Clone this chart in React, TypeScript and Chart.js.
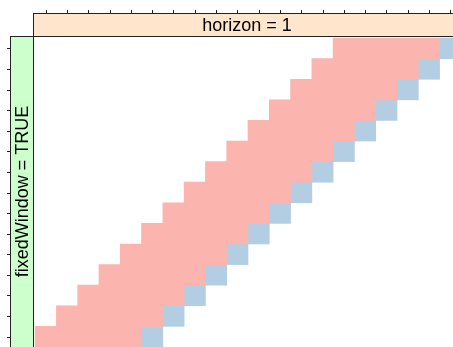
import React, { useEffect, useRef } from "react";
import { Chart, registerables } from "chart.js";

Chart.register(...registerables);

// Time-slice resampling (fixedWindow = TRUE, horizon = 1)
const sliceIds = [1, 2, 3, 4, 5, 6, 7, 8, 9, 10, 11, 12, 13, 14, 15];
const timePoints = [1, 2, 3, 4, 5, 6, 7, 8, 9, 10, 11, 12, 13, 14, 15, 16, 17, 18, 19, 20];
const trainStart = [1, 2, 3, 4, 5, 6, 7, 8, 9, 10, 11, 12, 13, 14, 15];
const trainEnd = [5, 6, 7, 8, 9, 10, 11, 12, 13, 14, 15, 16, 17, 18, 19];
const testTime = [6, 7, 8, 9, 10, 11, 12, 13, 14, 15, 16, 17, 18, 19, 20];

const topStripLabel = "horizon = 1";
const leftStripLabel = "fixedWindow = TRUE";

const TRAIN_COLOR = "#FBB4AE";
const TEST_COLOR = "#B3CDE3";
const TOP_STRIP_BG = "#FFE5CC";
const LEFT_STRIP_BG = "#CCFFCC";

const CANVAS_W = 480;
const CANVAS_H = 360;
const STRIP = 23;

export default function App() {
  const ref = useRef<HTMLCanvasElement>(null);

  useEffect(() => {
    if (!ref.current) return;

    const latticePlugin = {
      id: "latticeStrips",
      afterDraw(chart: any) {
        const { ctx, chartArea: a, scales } = chart;
        const xs = scales.x;
        const ys = scales.y;
        ctx.save();
        ctx.lineWidth = 1;
        ctx.strokeStyle = "#222";

        const L = Math.round(a.left) + 0.5;
        const T = Math.round(a.top) + 0.5;

        // top strip
        ctx.fillStyle = TOP_STRIP_BG;
        ctx.fillRect(L, T - STRIP, chart.width, STRIP);
        ctx.strokeRect(L, T - STRIP, chart.width + 10, STRIP);

        // left strip
        ctx.fillStyle = LEFT_STRIP_BG;
        ctx.fillRect(L - STRIP, T, STRIP, chart.height);
        ctx.strokeRect(L - STRIP, T, STRIP, chart.height + 10);

        // panel border
        ctx.strokeRect(L, T, Math.round(a.right) - Math.round(a.left), Math.round(a.bottom) - Math.round(a.top));

        // ticks
        ctx.beginPath();
        timePoints.forEach((v) => {
          const px = Math.round(xs.getPixelForValue(v)) + 0.5;
          ctx.moveTo(px, T - STRIP - 3.5);
          ctx.lineTo(px, T - STRIP);
        });
        sliceIds.forEach((v) => {
          const py = Math.round(ys.getPixelForValue(v)) + 0.5;
          ctx.moveTo(L - STRIP - 3.5, py);
          ctx.lineTo(L - STRIP, py);
        });
        ctx.stroke();

        // strip labels
        ctx.fillStyle = "#000";
        ctx.font = '18px "Liberation Sans", Arial, sans-serif';
        ctx.textAlign = "center";
        ctx.textBaseline = "middle";
        ctx.fillText(topStripLabel, (a.left + a.right) / 2 - 1, T - STRIP / 2 + 1);

        ctx.save();
        ctx.translate(L - STRIP / 2 + 1, (a.top + a.bottom) / 2 - 1);
        ctx.rotate(-Math.PI / 2);
        ctx.fillText(leftStripLabel, 0, 0);
        ctx.restore();

        ctx.restore();
      },
    };

    const chart = new Chart(ref.current, {
      type: "bar",
      data: {
        datasets: [
          {
            label: "train",
            data: sliceIds.map((s, i) => ({ y: s, x: [trainStart[i] - 0.5, trainEnd[i] + 0.5] })) as any,
            backgroundColor: TRAIN_COLOR,
            borderWidth: 0,
            grouped: false,
            categoryPercentage: 1,
            barPercentage: 1,
          },
          {
            label: "test",
            data: sliceIds.map((s, i) => ({ y: s, x: [testTime[i] - 0.5, testTime[i] + 0.5] })) as any,
            backgroundColor: TEST_COLOR,
            borderWidth: 0,
            grouped: false,
            categoryPercentage: 1,
            barPercentage: 1,
          },
        ],
      },
      options: {
        indexAxis: "y",
        responsive: false,
        animation: false,
        devicePixelRatio: 1,
        layout: { padding: { left: 33, top: 36, right: CANVAS_W - 463, bottom: CANVAS_H - 349 } },
        plugins: { legend: { display: false }, tooltip: { enabled: false } },
        scales: {
          x: {
            type: "linear",
            min: 0.4,
            max: 20.6,
            offset: false,
            display: false,
            afterBuildTicks: (s: any) => {
              s.ticks = timePoints.map((v) => ({ value: v }));
            },
          },
          y: {
            type: "linear",
            min: 0.4,
            max: 15.6,
            offset: false,
            display: false,
            afterBuildTicks: (s: any) => {
              s.ticks = sliceIds.map((v) => ({ value: v }));
            },
          },
        },
      },
      plugins: [latticePlugin],
    } as any);

    return () => chart.destroy();
  }, []);

  return (
    <div style={{ position: "fixed", left: 0, top: 0, width: CANVAS_W, height: CANVAS_H, background: "#fff" }}>
      <canvas ref={ref} width={CANVAS_W} height={CANVAS_H} style={{ display: "block", width: CANVAS_W, height: CANVAS_H }} />
    </div>
  );
}
